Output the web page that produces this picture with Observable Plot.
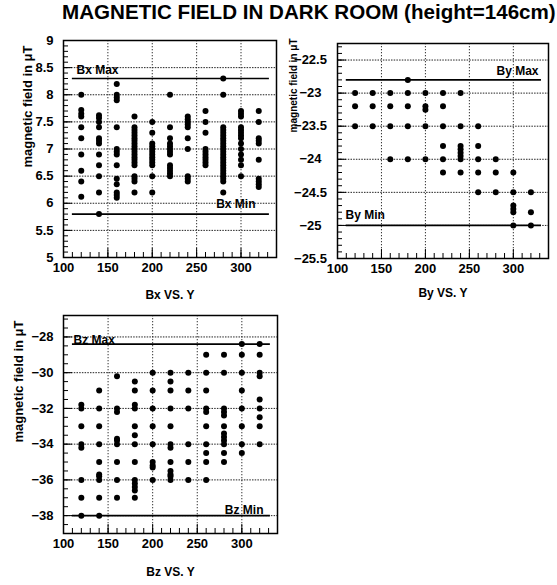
<!DOCTYPE html>
<html><head><meta charset="utf-8">
<script src="https://cdn.jsdelivr.net/npm/d3@7"></script>
<script src="https://cdn.jsdelivr.net/npm/@observablehq/plot@0.6"></script>
<style>
body{margin:0;background:#fff;}
#wrap{position:relative;width:557px;height:585px;overflow:hidden;font-family:"Liberation Sans",Arial,sans-serif;color:#000;}
#title{position:absolute;left:62px;top:0;font-size:20.6px;font-weight:bold;line-height:23px;white-space:nowrap;}
.panel{position:absolute;}
</style></head><body>
<div id="wrap">
<div id="title">MAGNETIC FIELD IN DARK ROOM (height=146cm)</div>
<div id="p1" class="panel" style="left:0;top:30px"></div>
<div id="p2" class="panel" style="left:280px;top:30px"></div>
<div id="p3" class="panel" style="left:0;top:305px"></div>
</div>
<script>
// ---- data ----
const yPositions = [120, 140, 160, 180, 200, 220, 240, 260, 280, 300, 320];

const bxValues = [
  [8.0, 7.72, 7.65, 7.6, 7.4, 7.2, 6.9, 6.6, 6.4, 6.12],
  [7.62, 7.57, 7.5, 7.4, 7.2, 7.15, 7.1, 6.9, 6.7, 6.5, 6.2, 5.8],
  [8.2, 8.0, 7.95, 7.9, 7.4, 7.0, 6.95, 6.9, 6.7, 6.45, 6.35, 6.2, 6.15, 6.1],
  [7.6, 7.4, 7.35, 7.3, 7.25, 7.2, 7.15, 7.1, 7.05, 7.0, 6.95, 6.9, 6.85, 6.8, 6.75, 6.7, 6.5, 6.45, 6.4, 6.2],
  [7.5, 7.3, 7.1, 7.05, 7.0, 6.95, 6.9, 6.85, 6.8, 6.75, 6.7, 6.5, 6.2],
  [8.0, 7.4, 7.2, 7.1, 7.05, 7.0, 6.95, 6.9, 6.7, 6.65, 6.6, 6.55, 6.5],
  [7.6, 7.55, 7.5, 7.45, 7.4, 7.2, 7.0, 6.5, 6.45, 6.4],
  [7.7, 7.5, 7.3, 7.0, 6.95, 6.9, 6.85, 6.8, 6.75, 6.7],
  [8.3, 8.0, 7.4, 7.35, 7.3, 7.25, 7.2, 7.15, 7.1, 7.05, 7.0, 6.95, 6.9, 6.85, 6.8, 6.75, 6.7, 6.65, 6.6, 6.55, 6.5, 6.45, 6.4, 6.2],
  [7.7, 7.65, 7.6, 7.4, 7.35, 7.3, 7.25, 7.2, 7.1, 7.0, 6.9, 6.8, 6.7, 6.5],
  [7.7, 7.5, 7.2, 7.15, 7.1, 6.8, 6.45, 6.4, 6.35, 6.3]
];
const byValues = [
  [-23, -23.2, -23.5],
  [-23, -23.2, -23.5],
  [-23, -23.2, -23.5, -24],
  [-22.8, -23, -23.2, -23.5, -24],
  [-23, -23.2, -23.25, -23.5, -24],
  [-23, -23.2, -23.5, -23.8, -24, -24.2],
  [-23, -23.5, -23.8, -23.85, -23.9, -23.95, -24, -24.2],
  [-23.5, -23.8, -24, -24.2, -24.5],
  [-24, -24.2, -24.5],
  [-24.2, -24.5, -24.7, -24.75, -24.8, -25],
  [-24.5, -24.8, -25]
];
const bzValues = [
  [-31.8, -32, -33, -34, -34.2, -36, -37, -38],
  [-31, -32, -33, -34, -35, -35.7, -35.8, -36, -37, -38],
  [-30.2, -32, -32.2, -33.7, -33.8, -34, -35, -36, -37],
  [-30.5, -31, -31.8, -32, -33, -33.5, -34, -35, -36, -36.2, -36.4, -36.6, -37],
  [-30, -31, -32, -33, -34, -35, -35.2, -35.3, -36],
  [-30, -30.5, -31, -32, -33, -34, -34.2, -35, -35.5, -35.7, -35.8, -36],
  [-30, -31, -32, -34, -35, -36],
  [-29, -30, -31, -32, -32.2, -33, -34, -34.5, -35, -36],
  [-29, -30, -32, -32.2, -32.4, -33, -33.4, -33.6, -33.8, -34, -34.5, -35],
  [-28.4, -29, -30, -31, -32, -33, -34, -34.5],
  [-28.4, -29, -30, -30.2, -31.5, -32, -32.5, -33, -34]
];

const bxLimits = {max: 8.3, min: 5.8};
const byLimits = {max: -22.8, min: -25.0};
const bzLimits = {max: -28.4, min: -38.0};

const xTicks = [100, 150, 200, 250, 300];
const xTickLabels = ["100", "150", "200", "250", "300"];
const bxTicks = [5, 5.5, 6, 6.5, 7, 7.5, 8, 8.5, 9];
const bxTickLabels = ["5", "5.5", "6", "6.5", "7", "7.5", "8", "8.5", "9"];
const byTicks = [-25.5, -25, -24.5, -24, -23.5, -23, -22.5];
const byTickLabels = ["\u221225.5", "\u221225", "\u221224.5", "\u221224", "\u221223.5", "\u221223", "\u221222.5"];
const bzTicks = [-38, -36, -34, -32, -30, -28];
const bzTickLabels = ["\u221238", "\u221236", "\u221234", "\u221232", "\u221230", "\u221228"];

const axisTitle = "magnetic field in \u03bcT";
const panelTitles = ["Bx VS. Y", "By VS. Y", "Bz VS. Y"];
const limitNames = [["Bx Max", "Bx Min"], ["By Max", "By Min"], ["Bz Max", "Bz Min"]];

// ---- drawing ----
const font = '"Liberation Sans", Arial, Helvetica, sans-serif';
function points(values) {
  return yPositions.flatMap((p, i) => values[i].map(v => ({p, v})));
}
function labelFor(ticks, labels) {
  return d => labels[ticks.indexOf(d)] ?? "";
}

function panel(o) {
  const minorX = d3.range(100, 341, 10);
  const innerY = o.ticks.filter(t => t > o.yDomain[0] && t < o.yDomain[1]);
  const fw = o.width - o.ml - o.mr;     // frame width in px
  const fh = o.height - o.mt - o.mb;    // frame height in px
  // inward ticks: rules spanning the frame, inset so only a short stub remains at the axis edge
  const tickX = (data, len) => Plot.ruleX(data, {insetTop: fh - len, stroke: "black", strokeWidth: 1});
  const tickY = (data, len) => Plot.ruleY(data, {insetRight: fw - len, stroke: "black", strokeWidth: 1});
  return Plot.plot({
    width: o.width, height: o.height,
    marginLeft: o.ml, marginRight: o.mr, marginTop: o.mt, marginBottom: o.mb,
    x: {domain: [100, 340]},
    y: {domain: o.yDomain},
    style: {fontFamily: font, fontWeight: "bold", fontSize: "13px", background: "transparent", color: "black", overflow: "visible"},
    marks: [
      Plot.ruleX(xTicks.slice(1), {stroke: "#333", strokeDasharray: "1.3,1.7", strokeWidth: 1}),
      Plot.ruleY(innerY, {stroke: "#222", strokeDasharray: "1.5,1.2", strokeWidth: 1}),
      Plot.ruleY([o.limits.max, o.limits.min], {x1: 110, x2: 332, stroke: "black", strokeWidth: 1.6}),
      Plot.dot(points(o.values), {x: "p", y: "v", r: 3, fill: "black", stroke: "none"}),
      tickX(minorX, 5),
      tickX(xTicks, 9),
      tickY(o.minorY, 5),
      tickY(o.ticks, 9),
      Plot.axisX(xTicks, {tickSize: 0, tickPadding: 5, tickFormat: labelFor(xTicks, xTickLabels), label: null}),
      Plot.axisY(o.ticks, {tickSize: 0, tickPadding: o.yPad, textAnchor: o.yAnchor, tickFormat: labelFor(o.ticks, o.tickLabels), label: null}),
      Plot.frame({stroke: "black", strokeWidth: 1.5}),
      Plot.text([axisTitle], {frameAnchor: "top-left", rotate: -90, textAnchor: "end", dx: o.atDx, dy: o.atDy, fontSize: o.atSize}),
      Plot.text([o.title], {frameAnchor: "bottom", dy: o.titleDy, fontSize: 12}),
      Plot.text([{v: o.limits.max, t: o.names[0]}], {y: "v", text: "t", frameAnchor: o.maxSide, textAnchor: o.maxSide === "left" ? "start" : "end", dx: o.maxDx, dy: o.maxDy, lineAnchor: "bottom", fontSize: 12}),
      Plot.text([{v: o.limits.min, t: o.names[1]}], {y: "v", text: "t", frameAnchor: o.minSide, textAnchor: o.minSide === "left" ? "start" : "end", dx: o.minDx, dy: o.minDy, lineAnchor: "bottom", fontSize: 12})
    ]
  });
}

document.getElementById("p1").append(panel({
  width: 280, height: 280, ml: 63, mr: 4, mt: 10, mb: 53,
  yDomain: [5, 9], values: bxValues, ticks: bxTicks, tickLabels: bxTickLabels,
  minorY: d3.range(50, 91, 1).map(d => d / 10),
  yPad: 10, yAnchor: "end", limits: bxLimits, names: limitNames[0],
  atDx: -41, atDy: 5, atSize: 13, title: panelTitles[0], titleDy: 41,
  maxSide: "left", maxDx: 13, maxDy: -4, minSide: "right", minDx: -21, minDy: -6
}));
document.getElementById("p2").append(panel({
  width: 277, height: 280, ml: 57, mr: 9, mt: 13, mb: 52,
  yDomain: [-25.5, -22.25], values: byValues, ticks: byTicks, tickLabels: byTickLabels,
  minorY: d3.range(-255, -222, 1).map(d => d / 10),
  yPad: 27, yAnchor: "middle", limits: byLimits, names: limitNames[1],
  atDx: -48, atDy: -5, atSize: 10, title: panelTitles[1], titleDy: 38,
  maxSide: "right", maxDx: -10, maxDy: -5, minSide: "left", minDx: 8, minDy: -6
}));
document.getElementById("p3").append(panel({
  width: 285, height: 280, ml: 63, mr: 8, mt: 10, mb: 52,
  yDomain: [-39, -26.8], values: bzValues, ticks: bzTicks, tickLabels: bzTickLabels,
  minorY: d3.range(-78, -53, 1).map(d => d / 2),
  yPad: 10, yAnchor: "end", limits: bzLimits, names: limitNames[2],
  atDx: -50, atDy: 5, atSize: 13, title: panelTitles[2], titleDy: 42,
  maxSide: "left", maxDx: 10, maxDy: 0, minSide: "right", minDx: -14, minDy: -2
}));
</script>
</body></html>
